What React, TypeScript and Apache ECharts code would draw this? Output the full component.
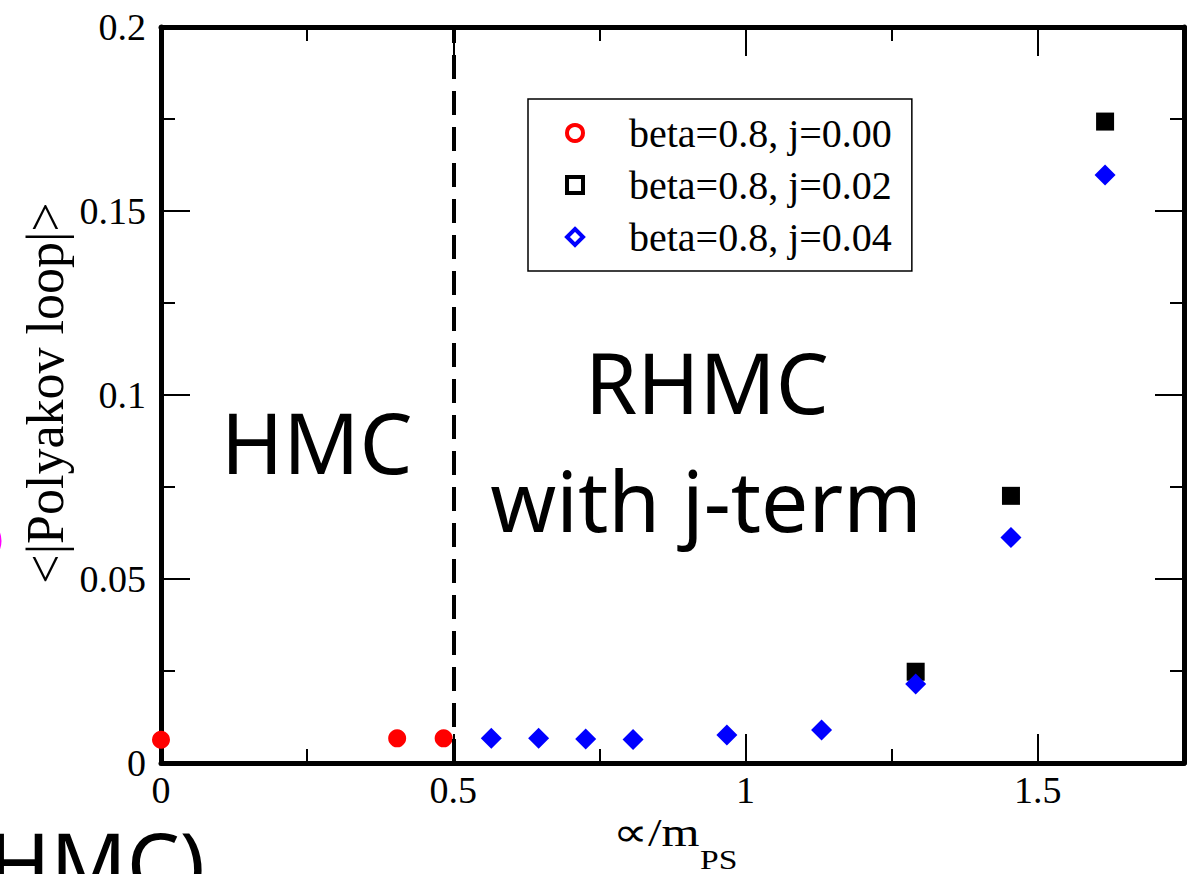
import React, { useEffect, useRef } from "react";
import * as echarts from "echarts";

// Series labels
const seriesNames = ["beta=0.8, j=0.00", "beta=0.8, j=0.02", "beta=0.8, j=0.04"];

// <|Polyakov loop|> against ∝/m_PS
const j000Points = [
  [0, 0.0063],
  [0.404, 0.0067],
  [0.4835, 0.0067],
];
const j002Points = [
  [1.291, 0.0248],
  [1.454, 0.0726],
  [1.615, 0.1743],
];
const j004Points = [
  [0.565, 0.0067],
  [0.646, 0.0067],
  [0.7265, 0.0065],
  [0.8075, 0.0064],
  [0.968, 0.0076],
  [1.13, 0.009],
  [1.291, 0.0215],
  [1.454, 0.0613],
  [1.615, 0.1598],
];

// Axis ranges and tick steps
const xRange = [0, 1.75];
const xMajorStep = 0.5;
const xMinorStep = 0.25;
const yRange = [0, 0.2];
const yMajorStep = 0.05;

// Boundary between the HMC and RHMC regions
const algorithmBoundary = 0.5;

const SERIF = '"Liberation Serif", "Times New Roman", serif';
const SANS = '"Noto Sans", "Liberation Sans", Arial, sans-serif';

export default function App() {
  const ref = useRef<HTMLDivElement>(null);

  useEffect(() => {
    document.body.style.margin = "0";
    if (!ref.current) return;
    const chart = echarts.init(ref.current, undefined, { renderer: "svg" });

    const frameLine = { show: true, onZero: false, lineStyle: { color: "#000", width: 5 } };
    const tickStyle = { color: "#000", width: 2 };

    const xMajor = (position: "bottom" | "top", labels: boolean) => ({
      type: "value",
      position,
      min: xRange[0],
      max: xRange[1],
      interval: xMajorStep,
      axisLine: frameLine,
      axisTick: { show: true, inside: true, length: 29, lineStyle: tickStyle },
      axisLabel: {
        show: labels,
        margin: 8,
        fontFamily: SERIF,
        fontSize: 38,
        color: "#000",
        showMaxLabel: false,
      },
      splitLine: { show: false },
    });
    const xMinor = (position: "bottom" | "top") => ({
      type: "value",
      position,
      min: xRange[0],
      max: xRange[1],
      interval: xMinorStep,
      axisLine: { show: false, onZero: false },
      axisTick: { show: true, inside: true, length: 14, lineStyle: tickStyle },
      axisLabel: { show: false },
      splitLine: { show: false },
    });
    const yAxis = (position: "left" | "right", labels: boolean) => ({
      type: "value",
      position,
      min: yRange[0],
      max: yRange[1],
      interval: yMajorStep,
      axisLine: frameLine,
      axisTick: { show: true, inside: true, length: 29, lineStyle: tickStyle },
      minorTick: { show: true, splitNumber: 2, length: 14, lineStyle: tickStyle },
      axisLabel: {
        show: labels,
        margin: 15,
        fontFamily: SERIF,
        fontSize: 38,
        color: "#000",
      },
      splitLine: { show: false },
      minorSplitLine: { show: false },
    });

    const label = (
      text: string,
      x: number,
      y: number,
      fontSize: number,
      fontFamily: string,
      align: "left" | "center" | "right",
      extra: Record<string, unknown> = {},
      lineHeight?: number
    ) => ({
      type: "text",
      x,
      y,
      ...extra,
      style: {
        text,
        fontSize,
        fontFamily,
        fill: "#000",
        align,
        verticalAlign: "middle",
        ...(lineHeight ? { lineHeight } : {}),
      },
    });

    chart.setOption({
      animation: false,
      backgroundColor: "#fff",
      grid: { left: 161, right: 8, top: 27, bottom: 111, containLabel: false },
      xAxis: [xMajor("bottom", true), xMinor("bottom"), xMajor("top", false), xMinor("top")],
      yAxis: [yAxis("left", true), yAxis("right", false)],
      legend: {
        orient: "vertical",
        left: 528,
        top: 99,
        padding: [14, 20, 14, 37],
        itemGap: 12,
        itemWidth: 16,
        itemHeight: 16,
        backgroundColor: "#fff",
        borderColor: "#000",
        borderWidth: 1.5,
        borderRadius: 0,
        selectedMode: false,
        textStyle: {
          fontFamily: SERIF,
          fontSize: 40,
          lineHeight: 40,
          color: "#000",
          padding: [0, 0, 0, 41],
        },
        data: [
          { name: seriesNames[0], icon: "circle", itemStyle: { color: "#fff", borderColor: "#ff0000", borderWidth: 4 } },
          { name: seriesNames[1], icon: "rect", itemStyle: { color: "#fff", borderColor: "#000", borderWidth: 4 } },
          { name: seriesNames[2], icon: "diamond", itemStyle: { color: "#fff", borderColor: "#0000ff", borderWidth: 4 } },
        ],
      },
      series: [
        {
          name: seriesNames[0],
          type: "scatter",
          symbol: "circle",
          symbolSize: 18,
          itemStyle: { color: "#ff0000", opacity: 1 },
          data: j000Points,
          z: 2,
        },
        {
          name: seriesNames[1],
          type: "scatter",
          symbol: "rect",
          symbolSize: 18,
          itemStyle: { color: "#000", opacity: 1 },
          data: j002Points,
          z: 2,
        },
        {
          name: seriesNames[2],
          type: "scatter",
          symbol: "diamond",
          symbolSize: 21,
          itemStyle: { color: "#0000ff", opacity: 1 },
          data: j004Points,
          z: 3,
        },
        {
          name: "boundary",
          type: "line",
          data: [],
          z: 5,
          silent: true,
          markLine: {
            silent: true,
            symbol: "none",
            label: { show: false },
            lineStyle: { color: "#000", width: 4, type: [24, 12] },
            data: [{ xAxis: algorithmBoundary }],
          },
        },
      ],
      graphic: [
        label("<|Polyakov loop|>", 45, 393, 52, SERIF, "center", { rotation: Math.PI / 2 }),
        label("∝/m", 613, 833, 40, SERIF, "left", { scaleX: 1.22 }),
        label("PS", 700, 859, 28, SERIF, "left", { scaleX: 1.2 }),
        label("HMC", 221, 441, 84, SANS, "left"),
        label("RHMC", 707, 381, 84, SANS, "center"),
        label("with j-term", 706, 499, 84, SANS, "center"),
        label("HMC)", 205, 861, 84, SANS, "right", {}, 60),
        {
          type: "circle",
          shape: { cx: -20, cy: 541, r: 20 },
          style: { fill: "none", stroke: "#ff00ff", lineWidth: 3 },
        },
      ],
    });

    return () => chart.dispose();
  }, []);

  return <div ref={ref} style={{ width: 1192, height: 874 }} />;
}
